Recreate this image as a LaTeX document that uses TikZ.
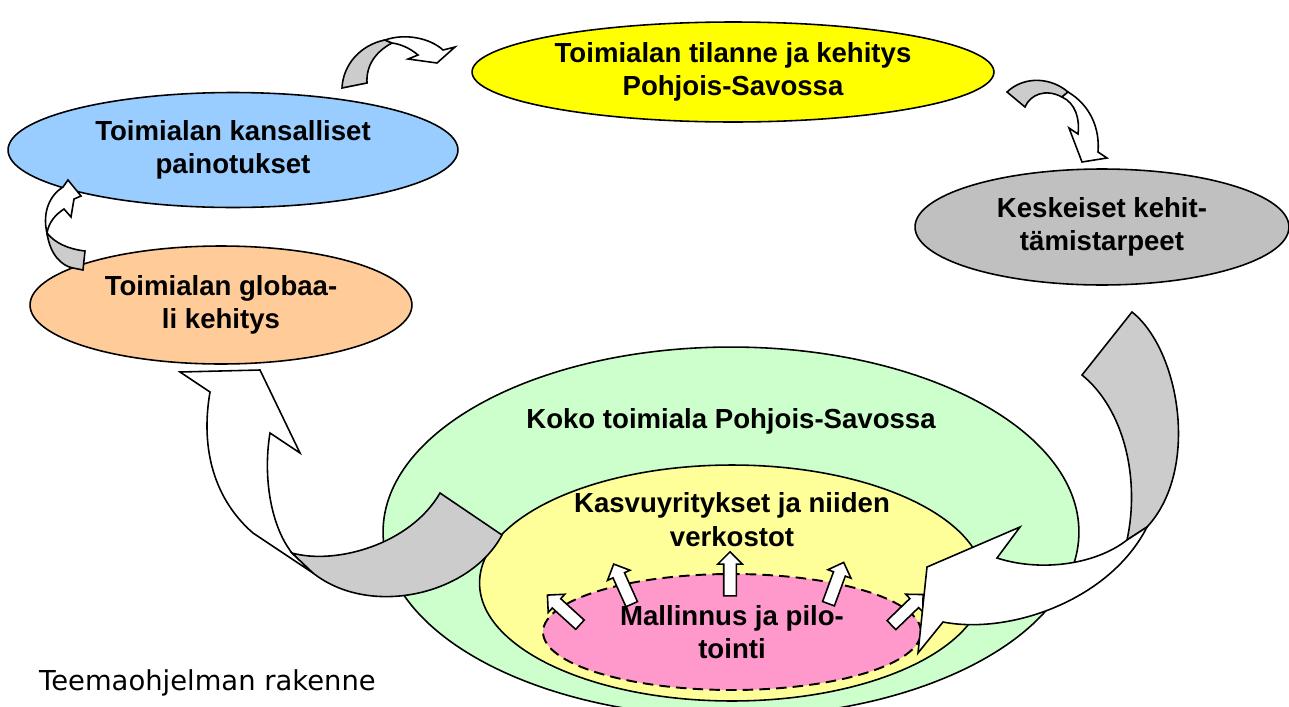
\documentclass[tikz,border=0pt]{standalone}
\usepackage{fontspec}
\setmainfont{Liberation Sans}
\newfontfamily\captionfont{DejaVu Sans}
\usetikzlibrary{shapes.geometric,shapes.arrows}

\begin{document}
\begin{tikzpicture}[x=.02cm,y=-.02cm,
 oval/.style={ellipse,draw=black,line width=.9pt,inner sep=0pt,align=center,font=\fontsize{15.7}{18.5}\selectfont\bfseries},
 title/.style={align=center,font=\fontsize{15.7}{19.5}\selectfont\bfseries},
 band/.style={draw=black,line width=.9pt,fill=ribbongray},
 face/.style={draw=black,line width=.9pt,fill=white},
 pointer/.style={single arrow,draw=black,line width=.9pt,fill=white,inner xsep=0pt,inner ysep=.11cm,minimum height=.88cm,single arrow head extend=.12cm}]
\definecolor{topyellow}{HTML}{FFFF00}
\definecolor{natblue}{HTML}{99CCFF}
\definecolor{globorange}{HTML}{FFCC99}
\definecolor{needgray}{HTML}{C0C0C0}
\definecolor{fieldgreen}{HTML}{CCFFCC}
\definecolor{growyellow}{HTML}{FFFF99}
\definecolor{pilotpink}{HTML}{FF99CC}
\definecolor{ribbongray}{HTML}{CCCCCC}
\clip (0,0) rectangle (1289,707);
% nested field, growth firms and pilots
\node[oval,fill=fieldgreen,minimum width=13.92cm,minimum height=7.4cm] (field) at (731,532) {};
\node[oval,fill=growyellow,minimum width=10.1cm,minimum height=4.72cm] (growth) at (732,583) {};
\node[oval,fill=pilotpink,line width=1.1pt,dash pattern=on 6pt off 3.5pt,minimum width=7.56cm,minimum height=2.32cm] (pilot) at (732,632)
 {Mallinnus ja pilo-\\tointi};
\node[title] (fieldtxt) at (731,421) {Koko toimiala Pohjois-Savossa};
\node[title] (growthtxt) at (732,520) {Kasvuyritykset ja niiden\\verkostot};
\node[pointer,rotate=137.7] (up1) at (566,612) {};
\node[pointer,rotate=114.2] (up2) at (624,587) {};
\node[pointer,rotate=90] (up3) at (730,577) {};
\node[pointer,rotate=69.8] (up4) at (835,586) {};
\node[pointer,rotate=44] (up5) at (905,612) {};
% outer cycle
\node[oval,fill=topyellow,minimum width=10.44cm,minimum height=2cm] (region) at (733,72)
 {Toimialan tilanne ja kehitys\\Pohjois-Savossa};
\node[oval,fill=natblue,minimum width=9cm,minimum height=2.3cm] (national) at (233,150)
 {Toimialan kansalliset\\painotukset};
\node[oval,fill=globorange,minimum width=7.64cm,minimum height=2.36cm] (global) at (221,305)
 {Toimialan globaa-\\li kehitys};
\node[oval,fill=needgray,minimum width=7.48cm,minimum height=2.32cm] (needs) at (1102,227)
 {Keskeiset kehit-\\tämistarpeet};
% curved ribbons
\fill[face] (210,392) -- (180,372) -- (260,370) -- (300,453) -- (270,433) .. controls (263,475) and (270,525) .. (292,553)
 -- (313,573) -- (253,533) .. controls (215,500) and (200,450) .. (210,392) -- cycle;
\fill[band] (292,553) .. controls (335,565) and (410,545) .. (440,493) -- (502,535)
 .. controls (470,595) and (370,618) .. (313,573) -- cycle;
\fill[band] (1082,375) -- (1132,312) .. controls (1180,350) and (1200,470) .. (1147,527) -- (1127,540)
 .. controls (1140,480) and (1125,410) .. (1082,375) -- cycle;
\fill[face] (1147,527) .. controls (1110,600) and (1010,635) .. (943,622) -- (918,653) -- (927,567) -- (1020,527)
 -- (997,558) .. controls (1040,572) and (1095,565) .. (1127,540) -- cycle;
\fill[band] (1007,92) .. controls (1025,75) and (1052,78) .. (1068,92) -- (1062,97)
 .. controls (1045,88) and (1030,95) .. (1025,107) -- cycle;
\fill[face] (1068,92) .. controls (1090,105) and (1100,128) .. (1098,152) -- (1107,158) -- (1082,162) -- (1069,128)
 -- (1078,134) .. controls (1080,118) and (1075,103) .. (1062,97) -- cycle;
\fill[band] (342,88) .. controls (343,65) and (360,45) .. (385,40) -- (392,43)
 .. controls (375,52) and (366,66) .. (367,83) -- cycle;
\fill[face] (385,40) .. controls (405,33) and (430,38) .. (443,50) -- (455,47) -- (437,63) -- (408,59)
 -- (418,55) .. controls (410,48) and (400,44) .. (392,43) -- cycle;
\fill[band] (47,233) .. controls (50,255) and (62,266) .. (73,268) -- (83,270) -- (85,251)
 .. controls (68,249) and (55,243) .. (47,233) -- cycle;
\fill[face] (47,233) .. controls (42,212) and (50,195) .. (63,187) -- (68,180) -- (81,196) -- (74,199) -- (71,217)
 -- (64,209) .. controls (55,215) and (49,222) .. (47,233) -- cycle;
\node[anchor=west,font=\captionfont\fontsize{15.6}{18}\selectfont] (caption) at (33,683) {Teemaohjelman rakenne};
\end{tikzpicture}
\end{document}
